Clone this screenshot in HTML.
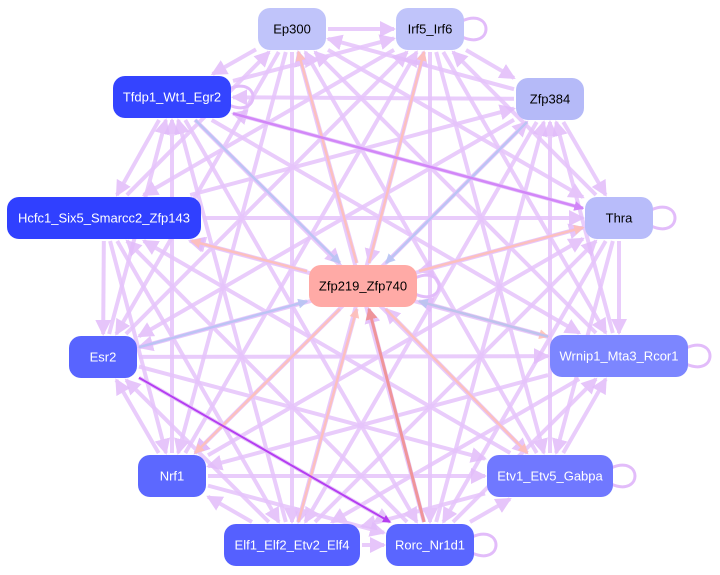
<!DOCTYPE html>
<html><head><meta charset="utf-8"><style>
html,body{margin:0;padding:0;background:#fff;width:720px;height:575px;overflow:hidden}
svg{position:absolute;left:0;top:0}
text{font-family:"Liberation Sans",Arial,sans-serif;font-size:13px;text-anchor:middle;dominant-baseline:central}
</style></head><body>
<svg id="s" width="720" height="575" viewBox="0 0 720 575">
<defs>
<marker id="m0" markerWidth="4" markerHeight="4" refX="3.5" refY="2" orient="auto" markerUnits="strokeWidth"><path d="M0,0L4,2L0,4z" fill="#e2bcfa"/></marker>
<marker id="m1" markerWidth="4" markerHeight="4" refX="3.5" refY="2" orient="auto" markerUnits="strokeWidth"><path d="M0,0L4,2L0,4z" fill="#ffc0b8"/></marker>
<marker id="m2" markerWidth="4" markerHeight="4" refX="3.5" refY="2" orient="auto" markerUnits="strokeWidth"><path d="M0,0L4,2L0,4z" fill="#b8c4f4"/></marker>
<marker id="m3" markerWidth="4" markerHeight="4" refX="3.5" refY="2" orient="auto" markerUnits="strokeWidth"><path d="M0,0L4,2L0,4z" fill="#d080f8"/></marker>
<marker id="m4" markerWidth="4" markerHeight="4" refX="3.5" refY="2" orient="auto" markerUnits="strokeWidth"><path d="M0,0L4,2L0,4z" fill="#b030f0"/></marker>
<marker id="m5" markerWidth="4" markerHeight="4" refX="3.5" refY="2" orient="auto" markerUnits="strokeWidth"><path d="M0,0L4,2L0,4z" fill="#f09090"/></marker>
</defs>
<g id="e"></g><g id="n"></g>
</svg>
<script>
var N=[
["Ep300",292,29,68,"#c0c4fa","#000"],
["Irf5_Irf6",430,29,68,"#c0c4fa","#000"],
["Zfp384",550,99,68,"#b5baf8","#000"],
["Tfdp1_Wt1_Egr2",172,97,118,"#3444ff","#fff"],
["Hcfc1_Six5_Smarcc2_Zfp143",104,218,194,"#3040ff","#fff"],
["Thra",619,218,68,"#b8bcfa","#000"],
["Zfp219_Zfp740",363,286,108,"#ffaaa6","#000"],
["Esr2",103,357,68,"#5864ff","#fff"],
["Wrnip1_Mta3_Rcor1",619,356,138,"#7c86ff","#fff"],
["Nrf1",172,476,68,"#5c68ff","#fff"],
["Etv1_Etv5_Gabpa",550,476,126,"#7078ff","#fff"],
["Elf1_Elf2_Etv2_Elf4",292,545,136,"#5560ff","#fff"],
["Rorc_Nr1d1",430,545,88,"#5a66ff","#fff"]];
var ns="http://www.w3.org/2000/svg",E=document.getElementById("e"),G=document.getElementById("n");
function clip(a,b){var dx=b[1]-a[1],dy=b[2]-a[2],w=b[3]/2+2,h=23;var t=Math.min(Math.abs(w/(dx||1e-6)),Math.abs(h/(dy||1e-6)));return [b[1]-dx*t,b[2]-dy*t];}
function line(i,j,c,m,w,o){var a=N[i],b=N[j],p=clip(b,a),q=clip(a,b),l=document.createElementNS(ns,"line");
l.setAttribute("x1",p[0]);l.setAttribute("y1",p[1]);l.setAttribute("x2",q[0]);l.setAttribute("y2",q[1]);
l.setAttribute("stroke",c);l.setAttribute("stroke-width",w);l.setAttribute("marker-end","url(#"+m+")");l.setAttribute("opacity",o||"0.9");E.appendChild(l);}
for(var i=0;i<N.length;i++)for(var j=0;j<N.length;j++)if(i<j)line((i+j)%2?i:j,(i+j)%2?j:i,"#e6c4fb","m0",4,"0.85");
var S=[[6,0,"#ffc0b8","m1"],[6,1,"#ffc0b8","m1"],[3,6,"#b8c4f4","m2"],[2,6,"#b8c4f4","m2"],[6,5,"#ffc0b8","m1"],[6,8,"#ffc0b8","m1"],[6,10,"#ffc0b8","m1"],[6,9,"#ffc0b8","m1"],[6,4,"#ffc0b8","m1"],[11,6,"#ffc0b8","m1"],[8,6,"#b8c4f4","m2"],[3,5,"#d080f8","m3"],[7,6,"#b8c4f4","m2"]];
S.forEach(function(s){line(s[0],s[1],s[2],s[3],2.5)});
line(7,12,"#b030f0","m4",2);line(12,6,"#f09090","m5",3);
N.forEach(function(d,k){if([1,3,5,6,8,10,12].indexOf(k)>=0){var p=document.createElementNS(ns,"path"),x=d[1]+d[3]/2,y=d[2];
p.setAttribute("d","M"+(x-2)+","+(y-8)+" C"+(x+30)+","+(y-22)+" "+(x+30)+","+(y+22)+" "+(x-2)+","+(y+8));p.setAttribute("fill","none");p.setAttribute("stroke","#e2bcfa");p.setAttribute("stroke-width","3");E.appendChild(p);}
var r=document.createElementNS(ns,"rect");r.setAttribute("x",d[1]-d[3]/2);r.setAttribute("y",d[2]-21);r.setAttribute("width",d[3]);r.setAttribute("height",42);r.setAttribute("rx",12);r.setAttribute("fill",d[4]);G.appendChild(r);
var t=document.createElementNS(ns,"text");t.setAttribute("x",d[1]);t.setAttribute("y",d[2]);t.setAttribute("fill",d[5]);t.textContent=d[0];G.appendChild(t);});
</script>
</body></html>
